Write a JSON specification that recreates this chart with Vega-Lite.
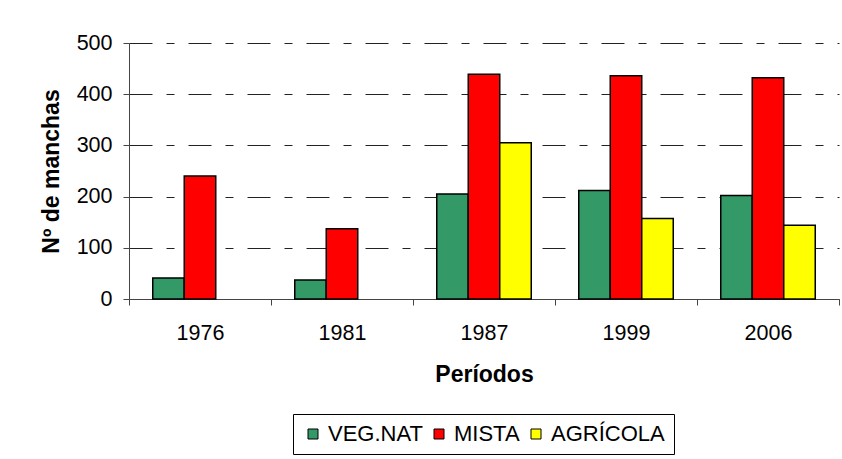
{
  "$schema": "https://vega.github.io/schema/vega-lite/v6.json",
  "autosize": {"type": "none"},
  "padding": {"left": 129, "top": 43, "right": 3, "bottom": 160},
  "width": 710,
  "height": 256,
  "background": "white",
  "config": {
    "font": "Liberation Sans",
    "view": {"stroke": null}
  },
  "data": {
    "values": [
      {"periodo": "1976", "tipo": "VEG.NAT", "manchas": 41},
      {"periodo": "1976", "tipo": "MISTA", "manchas": 240},
      {"periodo": "1981", "tipo": "VEG.NAT", "manchas": 37},
      {"periodo": "1981", "tipo": "MISTA", "manchas": 137},
      {"periodo": "1987", "tipo": "VEG.NAT", "manchas": 205},
      {"periodo": "1987", "tipo": "MISTA", "manchas": 439},
      {"periodo": "1987", "tipo": "AGRÍCOLA", "manchas": 305},
      {"periodo": "1999", "tipo": "VEG.NAT", "manchas": 212},
      {"periodo": "1999", "tipo": "MISTA", "manchas": 436},
      {"periodo": "1999", "tipo": "AGRÍCOLA", "manchas": 157},
      {"periodo": "2006", "tipo": "VEG.NAT", "manchas": 202},
      {"periodo": "2006", "tipo": "MISTA", "manchas": 432},
      {"periodo": "2006", "tipo": "AGRÍCOLA", "manchas": 144}
    ]
  },
  "mark": {"type": "bar", "stroke": "black", "strokeWidth": 1.5},
  "encoding": {
    "x": {
      "field": "periodo",
      "type": "nominal",
      "sort": ["1976", "1981", "1987", "1999", "2006"],
      "scale": {"paddingInner": 0, "paddingOuter": 0},
      "axis": {
        "title": "Períodos",
        "titleFontSize": 23,
        "titleFontWeight": "bold",
        "titleColor": "black",
        "titleBaseline": "alphabetic",
        "titleY": 82,
        "labelAngle": 0,
        "labelFontSize": 21.5,
        "labelColor": "black",
        "labelBaseline": "alphabetic",
        "labelPadding": 34,
        "tickBand": "extent",
        "tickSize": 6,
        "tickColor": "#444",
        "domainColor": "#444",
        "grid": false
      }
    },
    "xOffset": {
      "field": "tipo",
      "type": "nominal",
      "sort": ["VEG.NAT", "MISTA", "AGRÍCOLA"],
      "scale": {"paddingInner": 0, "paddingOuter": 0.754}
    },
    "y": {
      "field": "manchas",
      "type": "quantitative",
      "scale": {"domain": [0, 500], "nice": false},
      "axis": {
        "title": "Nº de manchas",
        "titleFontSize": 23,
        "titleFontWeight": "bold",
        "titleColor": "black",
        "titleBaseline": "alphabetic",
        "titleX": -71,
        "titleY": 128,
        "titleAngle": 270,
        "titleAlign": "center",
        "values": [0, 100, 200, 300, 400, 500],
        "labelFontSize": 21.5,
        "labelColor": "black",
        "labelPadding": 11,
        "tickSize": 6,
        "tickColor": "#444",
        "domainColor": "#444",
        "grid": true,
        "gridColor": "#222",
        "gridDash": [23, 14, 8, 14],
        "gridWidth": 1
      }
    },
    "color": {
      "field": "tipo",
      "type": "nominal",
      "sort": ["VEG.NAT", "MISTA", "AGRÍCOLA"],
      "scale": {"domain": ["VEG.NAT", "MISTA", "AGRÍCOLA"], "range": ["#339966", "#FF0000", "#FFFF00"]},
      "legend": {
        "title": null,
        "orient": "none",
        "direction": "horizontal",
        "legendX": 164,
        "legendY": 371,
        "strokeColor": "black",
        "padding": 9,
        "symbolType": "square",
        "symbolSize": 100,
        "symbolStrokeColor": "black",
        "symbolStrokeWidth": 1,
        "symbolOpacity": 1,
        "labelFontSize": 22,
        "labelColor": "black",
        "labelOffset": 4,
        "columnPadding": 5
      }
    }
  }
}
